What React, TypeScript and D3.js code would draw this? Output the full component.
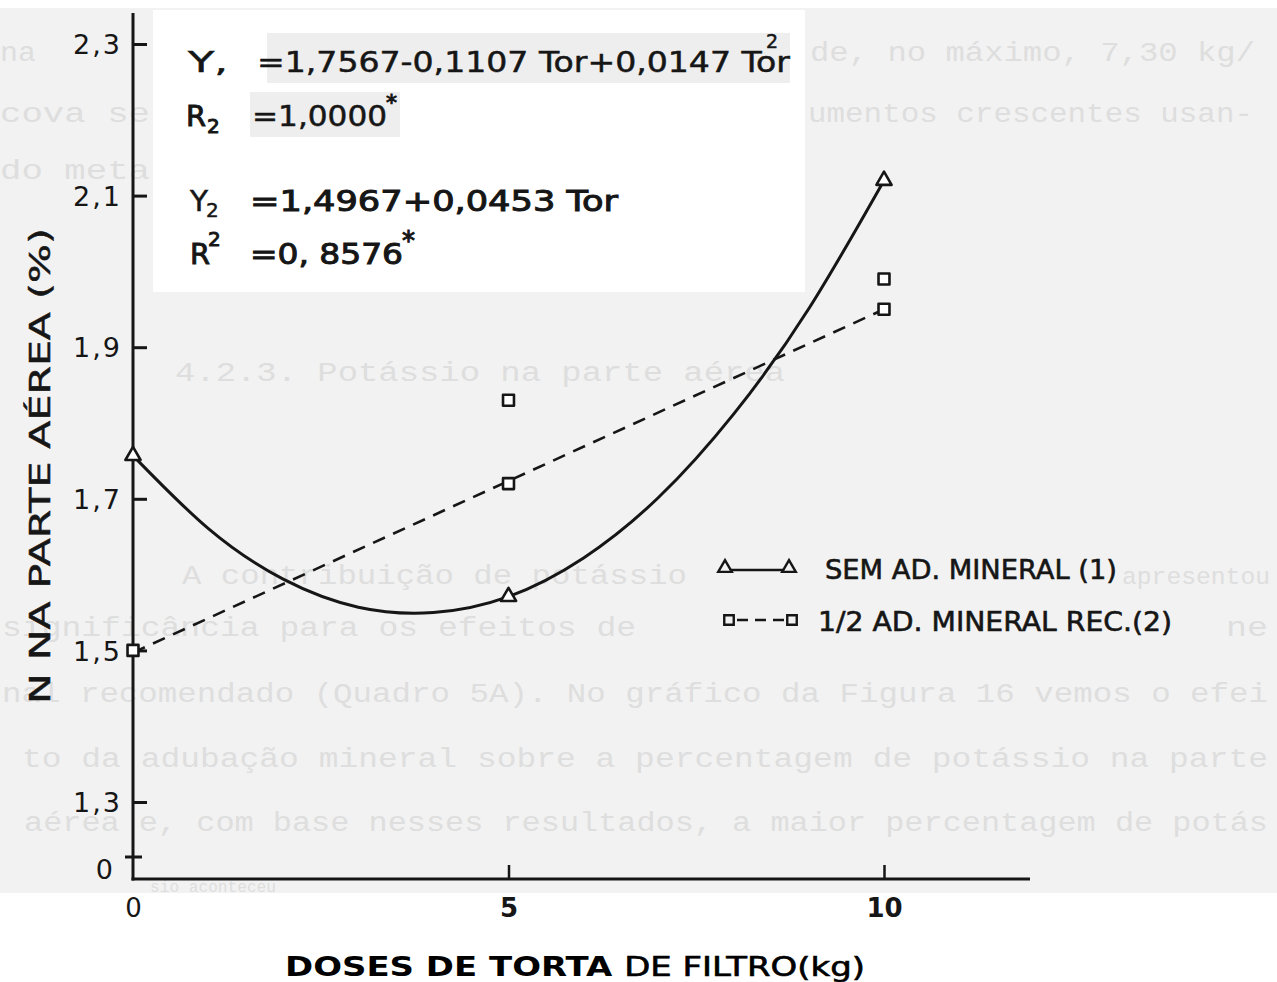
import React, {Component} from 'react';
import * as d3 from "d3"

// doses de torta de filtro (kg)
const doses = [0, 5, 10]
const yTicks = [1.3, 1.5, 1.7, 1.9, 2.1, 2.3]

// (1) sem adubação mineral - observed points
const semMineral = [1.757, 1.571, 2.12]
// (2) 1/2 adubação mineral recomendada - observed points
const meiaDoseX = [0, 5, 5, 10, 10]
const meiaDoseY = [1.50, 1.83, 1.72, 1.99, 1.95]

// fitted curve Y1, one value per kg
const curveX = [0, 1, 2, 3, 4, 5, 6, 7, 8, 9, 10]
const curveY1 = [1.757, 1.661, 1.594, 1.557, 1.550, 1.571, 1.622, 1.702, 1.812, 1.951, 2.120]
// fitted line Y2 at its two ends
const lineX2 = [0, 10]
const lineY2 = [1.497, 1.950]

const legendLabels = ["SEM AD. MINERAL (1)", "1/2 AD. MINERAL REC.(2)"]

// faded page text that shows through the scan
const pageText = [
  {t: "na", x: 0, y: 61, w: 36, s: 27},
  {t: "de, no máximo, 7,30  kg/", x: 810, y: 61, w: 445, s: 27},
  {t: "cova se", x: 0, y: 122, w: 150, s: 27},
  {t: "umentos crescentes usan-", x: 808, y: 122, w: 445, s: 27},
  {t: "do meta", x: 0, y: 179, w: 150, s: 27},
  {t: "4.2.3. Potássio na parte aérea", x: 175, y: 381, w: 610, s: 27},
  {t: "A contribuição de potássio", x: 182, y: 584, w: 505, s: 27},
  {t: "apresentou", x: 1122, y: 584, w: 148, s: 24},
  {t: "significância para os efeitos de", x: 2, y: 636, w: 634, s: 27},
  {t: "ne", x: 1226, y: 636, w: 42, s: 27},
  {t: "nal recomendado (Quadro 5A). No gráfico da Figura 16 vemos o efei", x: 2, y: 702, w: 1266, s: 27},
  {t: "to da adubação mineral sobre a percentagem de potássio na  parte", x: 22, y: 767, w: 1246, s: 27},
  {t: "aérea e, com base nesses resultados, a maior percentagem de potás", x: 24, y: 831, w: 1244, s: 27},
  {t: "sio aconteceu", x: 150, y: 892, w: 126, s: 16},
]

const ink = "#161616"
const sans = "'DejaVu Sans', 'Liberation Sans', sans-serif"

interface NPlotProps {}
interface NPlotState {}

class NPlot extends Component<NPlotProps, NPlotState> {
  renderPlot() {
    const width = 1277
    const height = 982
    const svg = d3.select("#NPlot")
    svg.selectAll("*").remove()

    // background of the scanned page
    svg.append("rect").attr("width", width).attr("height", height).attr("fill", "#ffffff")
    svg.append("rect").attr("x", 0).attr("y", 8).attr("width", width).attr("height", 885).attr("fill", "#f2f2f2")

    svg.append("g")
      .selectAll("text")
      .data(pageText)
      .join("text")
        .attr("x", d => d.x)
        .attr("y", d => d.y)
        .attr("textLength", d => d.w)
        .attr("lengthAdjust", "spacingAndGlyphs")
        .attr("font-family", "'Liberation Mono', 'DejaVu Sans Mono', monospace")
        .attr("font-size", d => d.s)
        .attr("fill", "#dedede")
        .text(d => d.t)

    // white box with the equations
    svg.append("rect").attr("x", 153).attr("y", 10).attr("width", 652).attr("height", 282).attr("fill", "#ffffff")
    svg.append("rect").attr("x", 267).attr("y", 33).attr("width", 523).attr("height", 50).attr("fill", "#eeeeee")
    svg.append("rect").attr("x", 250).attr("y", 92).attr("width", 150).attr("height", 45).attr("fill", "#eeeeee")

    const x = d3.scaleLinear().domain([0, 10]).range([133, 884])
    const y = d3.scaleLinear().domain([1.3, 2.3]).range([802, 44])
    const x0 = x(0)
    const yBase = 879

    // Y axis
    const yAxis = (g: any) => g
      .attr("transform", `translate(${x0},0)`)
      .call(d3.axisLeft(y).tickValues(yTicks).tickSize(-14).tickPadding(11)
        .tickFormat((d: any) => d.toFixed(1).replace(".", ",")))
      .call((g: any) => g.select(".domain").remove())
      .call((g: any) => g.selectAll(".tick line").attr("stroke", ink).attr("stroke-width", 3))
      .call((g: any) => g.selectAll(".tick text")
        .attr("fill", ink)
        .attr("font-family", sans)
        .attr("font-size", 27)
        .attr("letter-spacing", 2)
        .attr("dy", "0.36em"))

    // X axis
    const xAxis = (g: any) => g
      .attr("transform", `translate(0,${yBase})`)
      .call(d3.axisBottom(x).tickValues(doses).tickSize(-14).tickPadding(20)
        .tickFormat((d: any) => String(d)))
      .call((g: any) => g.select(".domain").remove())
      .call((g: any) => g.selectAll(".tick line").attr("stroke", ink).attr("stroke-width", 2.5)
        .attr("opacity", (d: any) => d === 0 ? 0 : 1))
      .call((g: any) => g.selectAll(".tick text")
        .attr("fill", ink)
        .attr("font-family", sans)
        .attr("font-size", 26)
        .attr("font-weight", (d: any) => d === 0 ? "normal" : "bold"))

    svg.append("g").call(yAxis)
    svg.append("g").call(xAxis)

    // axis lines
    svg.append("line").attr("x1", x0).attr("x2", x0).attr("y1", 13).attr("y2", yBase + 1.5)
      .attr("stroke", ink).attr("stroke-width", 3)
    svg.append("line").attr("x1", x0 - 1.5).attr("x2", 1030).attr("y1", yBase).attr("y2", yBase)
      .attr("stroke", ink).attr("stroke-width", 3)
    // axis break with the "0"
    svg.append("line").attr("x1", x0 - 8).attr("x2", x0 + 9).attr("y1", 857).attr("y2", 857)
      .attr("stroke", ink).attr("stroke-width", 3)
    svg.append("text").attr("x", 113).attr("y", 879).attr("text-anchor", "end")
      .attr("font-family", sans).attr("font-size", 27).attr("fill", ink).text("0")

    // fitted curves
    const curve = d3.line<number>()
      .x((d, i) => x(curveX[i]))
      .y(d => y(d))
      .curve(d3.curveNatural)
    svg.append("path").datum(curveY1).attr("d", curve)
      .attr("fill", "none").attr("stroke", ink).attr("stroke-width", 3)

    const straight = d3.line<number>()
      .x((d, i) => x(lineX2[i]))
      .y(d => y(d))
    svg.append("path").datum(lineY2).attr("d", straight)
      .attr("fill", "none").attr("stroke", ink).attr("stroke-width", 2.6)
      .attr("stroke-dasharray", "13,9")

    // markers
    const tri = d3.symbol().type(d3.symbolTriangle).size(100)
    const sq = d3.symbol().type(d3.symbolSquare).size(120)

    svg.append("g")
      .selectAll("path")
      .data(semMineral)
      .join("path")
        .attr("d", tri as any)
        .attr("transform", (d, i) => `translate(${x(doses[i])},${y(d)})`)
        .attr("fill", "#ffffff").attr("stroke", ink).attr("stroke-width", 2.6)
        .attr("stroke-linejoin", "round")

    svg.append("g")
      .selectAll("path")
      .data(meiaDoseY)
      .join("path")
        .attr("d", sq as any)
        .attr("transform", (d, i) => `translate(${x(meiaDoseX[i])},${y(d)})`)
        .attr("fill", "#ffffff").attr("stroke", ink).attr("stroke-width", 2.6)
        .attr("stroke-linejoin", "round")

    // legend
    const lg = svg.append("g")
    const rows = [568, 620]
    lg.append("line").attr("x1", 727).attr("x2", 789).attr("y1", rows[0] + 2).attr("y2", rows[0] + 2)
      .attr("stroke", ink).attr("stroke-width", 2.6)
    lg.append("line").attr("x1", 729).attr("x2", 791).attr("y1", rows[1]).attr("y2", rows[1])
      .attr("stroke", ink).attr("stroke-width", 2.6).attr("stroke-dasharray", "11,7").attr("stroke-dashoffset", -8)
    ;[725, 789].forEach(px => {
      lg.append("path").attr("d", d3.symbol().type(d3.symbolTriangle).size(80)() as string)
        .attr("transform", `translate(${px},${rows[0]})`)
        .attr("fill", "#f2f2f2").attr("stroke", ink).attr("stroke-width", 2.4)
    })
    ;[729, 792].forEach(px => {
      lg.append("path").attr("d", d3.symbol().type(d3.symbolSquare).size(90)() as string)
        .attr("transform", `translate(${px},${rows[1]})`)
        .attr("fill", "#f2f2f2").attr("stroke", ink).attr("stroke-width", 2.4)
    })
    const legendX = [825, 818]
    const legendW = [292, 354]
    lg.selectAll("text.lab")
      .data(legendLabels)
      .join("text")
        .attr("class", "lab")
        .attr("x", (d, i) => legendX[i])
        .attr("y", (d, i) => rows[i] + 11)
        .attr("textLength", (d, i) => legendW[i])
        .attr("lengthAdjust", "spacingAndGlyphs")
        .attr("font-family", sans)
        .attr("font-size", 27)
        .attr("fill", ink)
        .attr("stroke", ink)
        .attr("stroke-width", 0.6)
        .text(d => d)

    // equations
    const eq = svg.append("g").attr("font-family", sans).attr("fill", ink)
    const put = (txt: string, px: number, py: number, size: number, w?: number, bold?: boolean) => {
      const t = eq.append("text").attr("x", px).attr("y", py).attr("font-size", size)
        .attr("stroke", ink).attr("stroke-width", bold ? 1 : 0.5).text(txt)
      if (w) t.attr("textLength", w).attr("lengthAdjust", "spacingAndGlyphs")
      return t
    }
    put("Y,", 188, 72, 28, 40)
    put("=1,7567-0,1107 Tor+0,0147 Tor", 257, 72, 28, 533)
    put("2", 766, 48, 19)
    put("R", 186, 126, 28, 20, true)
    put("2", 207, 133, 20, 0, true)
    put("=1,0000", 252, 126, 28, 135)
    put("*", 386, 110, 22, 0, true)
    put("Y", 190, 211, 28, 18)
    put("2", 206, 217, 20)
    put("=1,4967+0,0453 Tor", 250, 211, 29, 368, true)
    put("R", 190, 264, 28, 20, true)
    put("2", 208, 246, 20, 0, true)
    put("=0, 8576", 250, 264, 29, 153, true)
    put("*", 402, 250, 26, 0, true)

    // axis titles
    svg.append("text")
      .attr("transform", `translate(50,${466}) rotate(-90)`)
      .attr("text-anchor", "middle")
      .attr("textLength", 476)
      .attr("lengthAdjust", "spacingAndGlyphs")
      .attr("font-family", sans)
      .attr("font-size", 28)
      .attr("fill", ink)
      .attr("stroke", ink)
      .attr("stroke-width", 0.5)
      .text("N NA PARTE AÉREA (%)")

    const xt = svg.append("text")
      .attr("x", 285)
      .attr("y", 976)
      .attr("textLength", 580)
      .attr("lengthAdjust", "spacingAndGlyphs")
      .attr("font-family", sans)
      .attr("font-weight", "bold")
      .attr("font-size", 26)
      .attr("fill", "#000")
    xt.append("tspan").text("DOSES DE TORTA ")
    xt.append("tspan").attr("font-weight", "normal").attr("stroke", "#000").attr("stroke-width", 0.6)
      .text("DE FILTRO(kg)")
  }

  componentDidMount() {
    this.renderPlot()
  }

  public render(): JSX.Element {
    return (
      <svg id="NPlot" width={1277} height={982} style={{display: "block"}} />
    )
  }
}

export default function App() {
  return (
    <div style={{position: "absolute", left: 0, top: 0}}>
      <NPlot />
    </div>
  )
}
